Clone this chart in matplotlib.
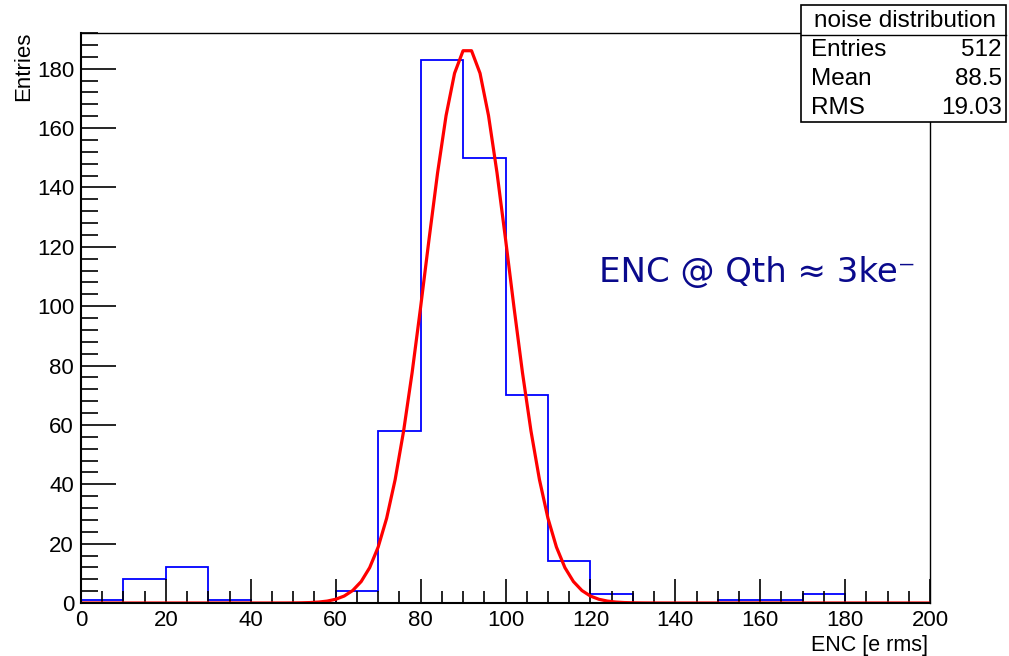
#!/usr/bin/env python
# -*- coding: utf-8 -*-

import numpy as np
import matplotlib
matplotlib.use('Agg')
import matplotlib.pyplot as plt
from matplotlib.ticker import MultipleLocator

#
# DATA
#

BIN_EDGES = list(range(0, 210, 10))
COUNTS = [1, 8, 12, 1, 0, 0, 4, 58, 183, 150, 70, 14, 3, 0, 0, 1, 1, 3, 0, 0]

# gaussian fit parameters (constant, mean, sigma)
FIT_CONST = 187.0
FIT_MEAN = 91.0
FIT_SIGMA = 9.8

STATS_TITLE = 'noise distribution'
STATS_ROWS = [('Entries', '512'), ('Mean', '88.5'), ('RMS', '19.03')]

plt.rcParams['font.family'] = ['Liberation Sans', 'DejaVu Sans']

W, H = 1009, 656
fig = plt.figure(figsize=(W / 100, H / 100), dpi=100)
ax = fig.add_axes([81 / W, 1 - 603 / H, (930 - 81) / W, (603 - 33) / H])

# histogram outline
ax.stairs(COUNTS, BIN_EDGES, color='#0000ff', linewidth=1.3)

# fit curve, drawn like ROOT with 100 points
xf = np.linspace(0, 200, 101)
yf = FIT_CONST * np.exp(-0.5 * ((xf - FIT_MEAN) / FIT_SIGMA) ** 2)
ax.plot(xf, yf, color='#ff0000', linewidth=2.3)

ax.set_xlim(0, 200)
ax.set_ylim(0, 192)

ax.xaxis.set_major_locator(MultipleLocator(20))
ax.xaxis.set_minor_locator(MultipleLocator(5))
ax.yaxis.set_major_locator(MultipleLocator(20))
ax.yaxis.set_minor_locator(MultipleLocator(4))
ax.tick_params(which='both', direction='in', top=False, right=False, labelsize=16, width=1.2)
ax.tick_params(axis='x', which='major', length=17, pad=5)
ax.tick_params(axis='x', which='minor', length=9)
ax.tick_params(axis='y', which='major', length=25, pad=5)
ax.tick_params(axis='y', which='minor', length=12)
for side in ['left', 'bottom']:
    ax.spines[side].set_linewidth(1.5)
for side in ['top', 'right']:
    ax.spines[side].set_linewidth(1.0)

fig.text(24 / W, 1 - 32 / H, 'Entries', rotation=90, ha='center', va='top', fontsize=16)
fig.text(928 / W, 1 - 645 / H, 'ENC [e rms]', ha='right', va='center', fontsize=15.5)

ax.text(757 / W, 1 - 273 / H, 'ENC @ Qth \u2248 3ke\u207b', transform=fig.transFigure,
        ha='center', va='center', fontsize=24.5, color='#0a0a8c', family=['DejaVu Sans'])

#
# STATS BOX
#

bx0, by0, bx1, by1 = 801, 5, 1006, 122
box = plt.Rectangle((bx0 / W, 1 - by1 / H), (bx1 - bx0) / W, (by1 - by0) / H,
                    transform=fig.transFigure, facecolor='white', edgecolor='black', linewidth=1.2, zorder=5)
fig.patches.append(box)
fig.add_artist(plt.Line2D([bx0 / W, bx1 / W], [1 - 35 / H, 1 - 35 / H], color='black', linewidth=1.0, zorder=6))
fig.text((bx0 + bx1) / 2 / W + 2 / W, 1 - 21 / H, STATS_TITLE, ha='center', va='center', fontsize=17.5, zorder=7)
for i, (name, val) in enumerate(STATS_ROWS):
    yy = 1 - (50 + i * 29) / H
    fig.text((bx0 + 10) / W, yy, name, ha='left', va='center', fontsize=17.5, zorder=7)
    fig.text((bx1 - 4) / W, yy, val, ha='right', va='center', fontsize=17.5, zorder=7)

fig.savefig('out.png', dpi=100)
